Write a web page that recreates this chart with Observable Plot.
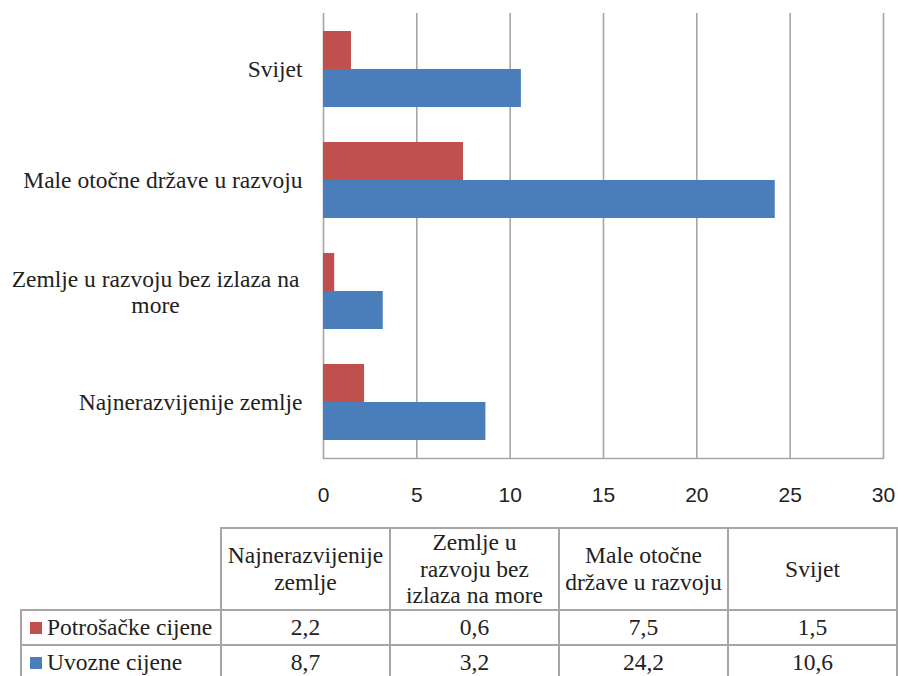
<!DOCTYPE html>
<html>
<head>
<meta charset="utf-8">
<script src="https://cdn.jsdelivr.net/npm/d3@7"></script>
<script src="https://cdn.jsdelivr.net/npm/@observablehq/plot@0.6"></script>
<style>
  html, body { margin: 0; padding: 0; background: #fff; }
  body { width: 898px; height: 676px; overflow: hidden; position: relative; }
  #chart svg { display: block; }
  table.dt {
    position: absolute; left: 20px; top: 527px;
    border-collapse: collapse; table-layout: fixed;
    font-family: "Liberation Serif", "Tinos", "Times New Roman", "DejaVu Serif", "Noto Serif", serif; font-size: 23.5px; color: #222;
  }
  table.dt td { border: 2px solid #a6a6a6; text-align: center; padding: 0; line-height: 26.7px; }
  table.dt td.blank { border: none; border-right: 2px solid #a6a6a6; border-bottom: 2px solid #a6a6a6; }
  table.dt td.leg { text-align: left; padding-left: 8px; white-space: nowrap; }
  .sw { display: inline-block; width: 12px; height: 12px; margin-right: 5px; vertical-align: 1px; }
</style>
</head>
<body>
<div id="chart"></div>
<table class="dt" id="tbl"></table>
<script>
const categories = ["Najnerazvijenije zemlje", "Zemlje u razvoju bez izlaza na more", "Male otočne države u razvoju", "Svijet"];
const headerLabels = ["Najnerazvijenije\nzemlje", "Zemlje u\nrazvoju bez\nizlaza na more", "Male otočne\ndržave u razvoju", "Svijet"];
const series = ["Potrošačke cijene", "Uvozne cijene"];
const potrosacke = [2.2, 0.6, 7.5, 1.5];
const uvozne = [8.7, 3.2, 24.2, 10.6];
const xTicks = [0, 5, 10, 15, 20, 25, 30];
const colors = ["#c0504d", "#4a7ebb"];
const wrappedLabel = "Zemlje u razvoju bez izlaza na more";
const wrappedText = "Zemlje u razvoju bez izlaza na\nmore";

const rows = [];
categories.forEach((c, i) => {
  rows.push({category: c, series: series[0], value: potrosacke[i]});
  rows.push({category: c, series: series[1], value: uvozne[i]});
});

const W = 898, H = 510, mT = 13, mB = 52, mL = 323, mR = 15;
const yDomain = categories.slice().reverse();
const padIn = 0.317, padOut = 0.158;
const band = d3.scaleBand().domain(yDomain).range([mT, H - mB]).paddingInner(padIn).paddingOuter(padOut);
const half = band.bandwidth() / 2;

const serif = "'Liberation Serif', Tinos, 'Times New Roman', 'DejaVu Serif', 'Noto Serif', serif";
const sans = "'Liberation Sans', Arial, sans-serif";

const plot = Plot.plot({
  width: W, height: H,
  marginTop: mT, marginBottom: mB, marginLeft: mL, marginRight: mR,
  style: {fontFamily: serif, fontSize: "23.5px", color: "#222", background: "#fff"},
  x: {domain: [0, 30], label: null},
  y: {domain: yDomain, paddingInner: padIn, paddingOuter: padOut, label: null},
  marks: [
    Plot.ruleX(xTicks, {stroke: "#a6a6a6", strokeWidth: 1.6}),
    Plot.frame({anchor: "bottom", stroke: "#a6a6a6", strokeWidth: 1.6}),
    Plot.barX(rows.filter(d => d.series === series[0]), {x: "value", y: "category", fill: colors[0], insetBottom: half}),
    Plot.barX(rows.filter(d => d.series === series[1]), {x: "value", y: "category", fill: colors[1], insetTop: half}),
    Plot.axisX({ticks: xTicks, tickSize: 0, tickPadding: 29, label: null, fontFamily: sans, fontSize: 21, fill: "#222"}),
    Plot.axisY({ticks: categories.filter(c => c !== wrappedLabel), tickSize: 0, tickPadding: 21, label: null, fill: "#222", fontFamily: serif}),
    Plot.axisY({ticks: [wrappedLabel], tickFormat: () => wrappedText, tickSize: 0, tickPadding: 168, textAnchor: "middle", lineHeight: 1.14, label: null, fill: "#222", fontFamily: serif})
  ]
});
document.getElementById("chart").appendChild(plot);

// data table
const tbl = document.getElementById("tbl");
const colW = [200, 169, 169, 169, 169];
const cg = document.createElement("colgroup");
colW.forEach(w => { const c = document.createElement("col"); c.style.width = w + "px"; cg.appendChild(c); });
tbl.appendChild(cg);
const hr = document.createElement("tr");
hr.style.height = "82px";
const blank = document.createElement("td"); blank.className = "blank"; hr.appendChild(blank);
headerLabels.forEach(h => {
  const td = document.createElement("td");
  td.innerHTML = h.split("\n").join("<br>");
  hr.appendChild(td);
});
tbl.appendChild(hr);
[potrosacke, uvozne].forEach((vals, si) => {
  const tr = document.createElement("tr");
  tr.style.height = "35px";
  const lg = document.createElement("td"); lg.className = "leg";
  lg.innerHTML = `<span class="sw" style="background:${colors[si]}"></span>${series[si]}`;
  tr.appendChild(lg);
  vals.forEach(v => {
    const td = document.createElement("td");
    td.textContent = String(v).replace(".", ",");
    tr.appendChild(td);
  });
  tbl.appendChild(tr);
});
</script>
</body>
</html>
